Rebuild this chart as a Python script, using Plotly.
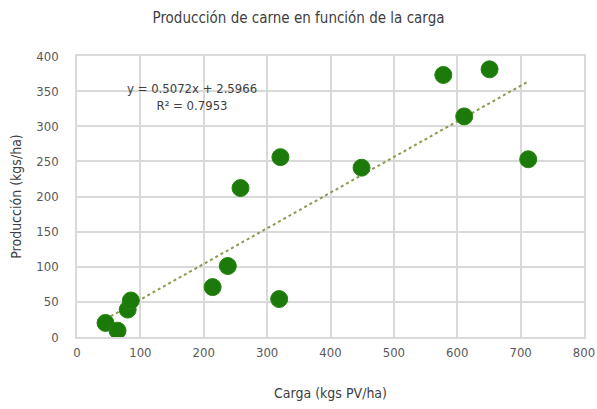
import plotly.graph_objects as go

carga = [45, 64, 80, 85, 214, 238, 258, 321, 319, 449, 578, 651, 611, 712]
produccion = [20, 9, 39, 52, 71, 101, 212, 256, 54, 241, 373, 381, 314, 253]
slope = 0.5072
intercept = 2.5966
r2 = 0.7953
x_ticks = [0, 100, 200, 300, 400, 500, 600, 700, 800]
y_ticks = [0, 50, 100, 150, 200, 250, 300, 350, 400]

FONT = "DejaVu Sans Condensed, Liberation Sans Narrow, sans-serif"

tx = [min(carga), max(carga)]
ty = [slope * v + intercept for v in tx]

fig = go.Figure()
fig.add_trace(go.Scatter(x=tx, y=ty, mode="lines",
                         line=dict(color="#8c9a50", width=2, dash="dot"),
                         hoverinfo="skip", showlegend=False))
fig.add_trace(go.Scatter(x=carga, y=produccion, mode="markers",
                         marker=dict(color="#1c7a0b", size=17,
                                     line=dict(color="#25850f", width=1)),
                         showlegend=False))

fig.add_annotation(x=182, y=342, xref="x", yref="y",
                   text=f"y = {slope}x + {intercept}<br>R² = {r2}",
                   showarrow=False, align="center",
                   font=dict(family=FONT, size=13, color="#404040"))

fig.update_layout(
    width=597, height=409,
    margin=dict(l=77, r=13, t=56, b=72),
    paper_bgcolor="white", plot_bgcolor="white",
    title=dict(text="Producción de carne en función de la carga",
               x=0.5, xanchor="center", y=0.956, yanchor="middle",
               font=dict(family=FONT, size=15, color="#404040")),
    font=dict(family=FONT, color="#595959", size=13),
)
fig.update_xaxes(range=[0, 800], tickvals=x_ticks, showgrid=True,
                 gridcolor="#d9d9d9", gridwidth=1.5, zeroline=False,
                 showline=True, linecolor="#d9d9d9", linewidth=1.5, mirror=True,
                 ticks="", automargin=False, ticklabelstandoff=3,
                 ticklabeloverflow="allow",
                 tickfont=dict(size=13, color="#595959"),
                 title=dict(text="Carga (kgs PV/ha)", standoff=29,
                            font=dict(size=14, color="#404040")))
fig.update_yaxes(range=[0, 400], tickvals=y_ticks, showgrid=True,
                 gridcolor="#d9d9d9", gridwidth=1.5, zeroline=False,
                 showline=True, linecolor="#d9d9d9", linewidth=1.5, mirror=True,
                 ticks="", automargin=False, ticklabelstandoff=14,
                 tickfont=dict(size=13, color="#595959"),
                 title=dict(text="Producción (kgs/ha)", standoff=11,
                            font=dict(size=14, color="#404040")))

# remove the page's default 8px body margin so the figure fills the window
fig.write_html("out.html",
               config={"displayModeBar": False},
               post_script="document.body.style.margin='0';document.body.style.overflow='hidden';")
